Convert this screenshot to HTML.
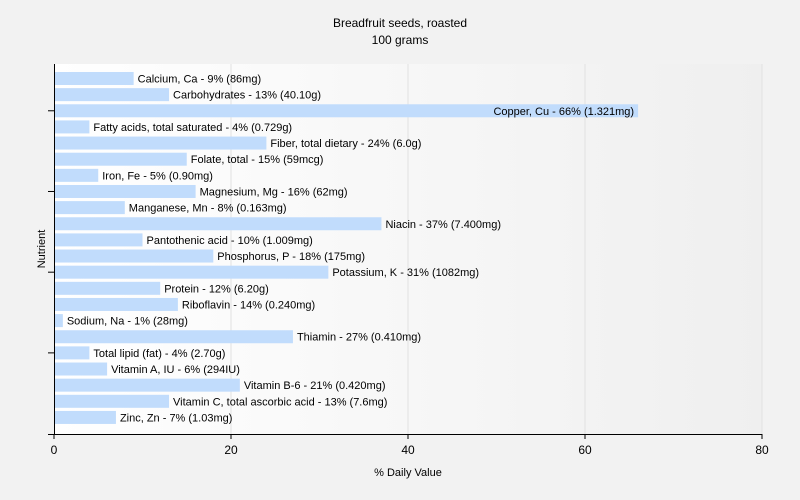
<!DOCTYPE html>
<html><head><meta charset="utf-8"><style>
html,body{margin:0;padding:0;background:#f2f2f2;font-family:"Liberation Sans",sans-serif;overflow:hidden}
svg{display:block}
</style></head><body>
<svg width="800" height="500" xmlns="http://www.w3.org/2000/svg" font-family="Liberation Sans, sans-serif">
<defs><linearGradient id="g" x1="0" x2="1" y1="0" y2="0"><stop offset="0" stop-color="#ffffff"/><stop offset="1" stop-color="#efefef"/></linearGradient></defs>
<rect width="800" height="500" fill="#f2f2f2"/>
<text x="400" y="27" text-anchor="middle" font-size="12" fill="#000">Breadfruit seeds, roasted</text>
<text x="400" y="44" text-anchor="middle" font-size="12" fill="#000">100 grams</text>
<rect x="54" y="64" width="708" height="370" fill="url(#g)"/>
<g id="grid"></g><g id="bars"></g><g id="axes"></g>
<text x="408" y="476" text-anchor="middle" font-size="11">% Daily Value</text>
<text transform="translate(45,249) rotate(-90)" text-anchor="middle" font-size="11">Nutrient</text>
</svg>
<script>
const names=["Calcium, Ca","Carbohydrates","Copper, Cu","Fatty acids, total saturated","Fiber, total dietary","Folate, total","Iron, Fe","Magnesium, Mg","Manganese, Mn","Niacin","Pantothenic acid","Phosphorus, P","Potassium, K","Protein","Riboflavin","Sodium, Na","Thiamin","Total lipid (fat)","Vitamin A, IU","Vitamin B-6","Vitamin C, total ascorbic acid","Zinc, Zn"];
const values=[9,13,66,4,24,15,5,16,8,37,10,18,31,12,14,1,27,4,6,21,13,7];
const amounts=["86mg","40.10g","1.321mg","0.729g","6.0g","59mcg","0.90mg","62mg","0.163mg","7.400mg","1.009mg","175mg","1082mg","6.20g","0.240mg","28mg","0.410mg","2.70g","294IU","0.420mg","7.6mg","1.03mg"];
const xTicks=[0,20,40,60,80];
const NS="http://www.w3.org/2000/svg";
const x0=54,x1=762,yTop=64,yBot=434,xMax=80;
const xs=v=>x0+v/xMax*(x1-x0);
const pitch=16.14;
const ys=i=>72+i*pitch;
function mk(t,a,p){const e=document.createElementNS(NS,t);for(const k in a)e.setAttribute(k,a[k]);p.appendChild(e);return e;}
const grid=document.getElementById('grid'),bars=document.getElementById('bars'),axes=document.getElementById('axes');
xTicks.forEach(t=>{
 if(t>0){const l=mk('line',{x1:xs(t),x2:xs(t),y1:yTop,y2:yBot,stroke:'#e2e2e2'},grid);
 
 }
 const tk=mk('line',{x1:xs(t),x2:xs(t),y1:yBot,y2:yBot+5,stroke:'#000'},axes);
 
 
 const tl=mk('text',{x:xs(t),y:yBot+20,'text-anchor':'middle','font-size':12},axes);tl.textContent=t;
 
 
});
names.forEach((n,i)=>{
 const y=ys(i),w=xs(values[i])-x0;
 const r=mk('rect',{x:x0+1,y:y,width:w-1,height:13,fill:'#c1dcfc'},bars);
 
 
 const label=n+' - '+values[i]+'% ('+amounts[i]+')';
 const inside=values[i]>50;
 const t=mk('text',{x:inside?xs(values[i])-4:xs(values[i])+4,y:y+10.5,'text-anchor':inside?'end':'start','font-size':11},bars);
 t.textContent=label;
 
 
 if(i%5===2){const tk=mk('line',{x1:x0-6,x2:x0,y1:y+6.5,y2:y+6.5,stroke:'#000'},axes);
 
 }
});
const ya=mk('line',{x1:x0+.5,x2:x0+.5,y1:yTop,y2:yBot,stroke:'#000'},axes);


const xa=mk('line',{x1:x0-6,x2:x1,y1:yBot+.5,y2:yBot+.5,stroke:'#000'},axes);


</script>
</body></html>
